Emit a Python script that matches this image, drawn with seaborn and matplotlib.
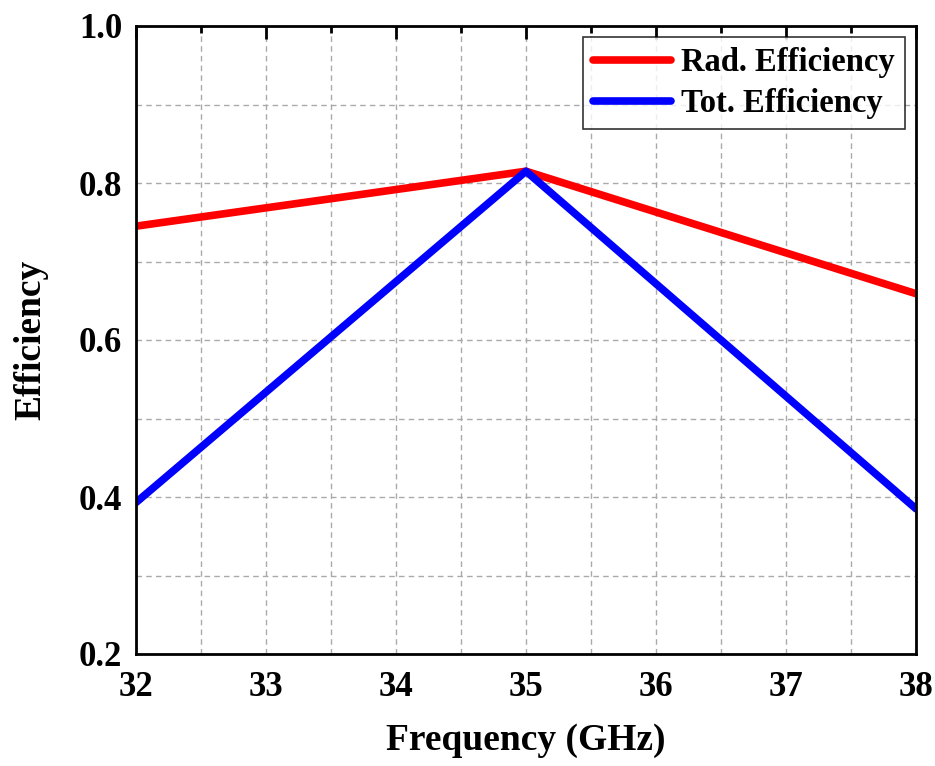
import matplotlib
matplotlib.use("Agg")
import matplotlib.pyplot as plt
import seaborn as sns
import pandas as pd
from matplotlib.ticker import MultipleLocator, FormatStrFormatter

freq = [32, 35, 38]
rad_eff = [0.745, 0.815, 0.659]
tot_eff = [0.393, 0.815, 0.385]
series_names = ["Rad. Efficiency", "Tot. Efficiency"]
colors = ["#ff0000", "#0000ff"]

df = pd.concat([
    pd.DataFrame({"Frequency": freq, "Efficiency": rad_eff, "Series": series_names[0]}),
    pd.DataFrame({"Frequency": freq, "Efficiency": tot_eff, "Series": series_names[1]}),
])

sns.set_style("white")
plt.rcParams["font.family"] = ["Liberation Serif", "DejaVu Serif"]
plt.rcParams["font.weight"] = "bold"
for k in ["text.color", "axes.labelcolor", "xtick.color", "ytick.color", "axes.edgecolor"]:
    plt.rcParams[k] = "black"

fig = plt.figure(figsize=(9.35, 7.66), dpi=100)
ax = fig.add_axes([136/935, 1-654/766, (916-136)/935, (654-26)/766])

sns.lineplot(data=df, x="Frequency", y="Efficiency", hue="Series",
             palette=colors, linewidth=5.5, ax=ax, legend=True)

ax.xaxis.set_major_locator(MultipleLocator(1))
ax.xaxis.set_minor_locator(MultipleLocator(0.5))
ax.yaxis.set_major_locator(MultipleLocator(0.2))
ax.yaxis.set_minor_locator(MultipleLocator(0.1))
ax.yaxis.set_major_formatter(FormatStrFormatter("%.1f"))
ax.set_xlim(32, 38)
ax.set_ylim(0.2, 1.0)

ax.grid(True, which="both", linestyle=(0, (4, 3)), color="#aaaaaa", linewidth=1.0)
ax.tick_params(which="both", direction="in", top=True, right=False, labelsize=25, width=2,
               colors="black")
ax.tick_params(axis="x", which="major", pad=12)
ax.tick_params(axis="y", which="major", pad=10)
ax.tick_params(which="major", length=9)
ax.tick_params(which="minor", length=5)
for lab in ax.get_xticklabels() + ax.get_yticklabels():
    lab.set_fontweight("bold")
for s in ax.spines.values():
    s.set_linewidth(2)
    s.set_color("black")
    s.set_visible(True)

ax.set_xlabel("Frequency (GHz)", fontsize=27, fontweight="bold", labelpad=14)
ax.set_ylabel("Efficiency", fontsize=27, fontweight="bold", labelpad=22)

leg = ax.legend(loc="upper right", frameon=True, fancybox=False,
                handlelength=2.4, handletextpad=0.3, borderaxespad=0.35,
                borderpad=0.3, labelspacing=0.3,
                prop={"weight": "bold", "size": 23.5})
leg.get_frame().set_edgecolor("black")
leg.get_frame().set_linewidth(1.2)
for line in leg.get_lines():
    line.set_linewidth(5.5)

fig.savefig("out.png", dpi=100)
